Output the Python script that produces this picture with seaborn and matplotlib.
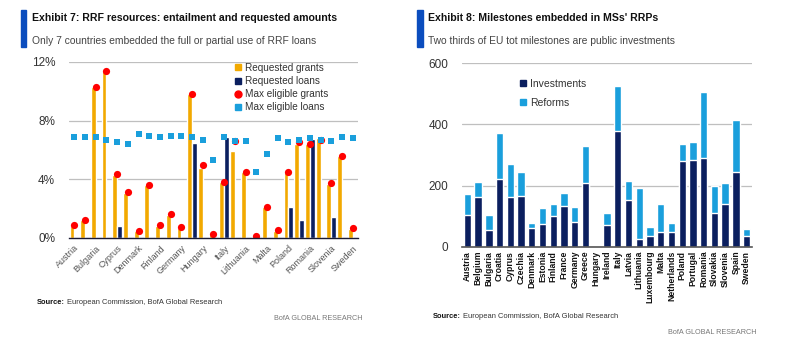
import pandas as pd
import matplotlib
matplotlib.use("Agg")
import matplotlib.pyplot as plt
from matplotlib.lines import Line2D
from matplotlib.patches import Rectangle
import seaborn as sns

# --- Data ---
countries = ["Austria", "Belgium", "Bulgaria", "Croatia", "Cyprus", "Czechia", "Denmark",
             "Estonia", "Finland", "France", "Germany", "Greece", "Hungary", "Ireland",
             "Italy", "Latvia", "Lithuania", "Luxembourg", "Malta", "Netherlands", "Poland",
             "Portugal", "Romania", "Slovakia", "Slovenia", "Spain", "Sweden"]

# Exhibit 7 (% of GNI)
requested_grants = [0.85, 1.2, 10.3, 11.4, 4.3, 3.1, 0.5, 3.6, 0.85, 1.6, 0.7, 9.8, 4.8, 0.25,
                    3.8, 5.9, 4.5, 0.1, 2.1, 0.5, 4.5, 6.4, 6.4, 6.8, 3.7, 5.6, 0.6]
requested_loans = [0, 0, 0, 0, 0.83, 0, 0, 0, 0, 0, 0, 6.5, 0, 0,
                   6.9, 0, 0, 0, 0, 0, 2.1, 1.25, 6.75, 0, 1.4, 0, 0]
max_grants = [0.86, 1.23, 10.3, 11.4, 4.35, 3.14, 0.49, 3.63, 0.86, 1.62, 0.72, 9.83, 4.95, 0.25,
              3.84, 6.6, 4.5, 0.12, 2.13, 0.55, 4.5, 6.54, 6.43, 6.7, 3.72, 5.62, 0.65]
max_loans = [6.9, 6.9, 6.9, 6.7, 6.57, 6.38, 7.1, 6.94, 6.9, 6.96, 6.98, 6.9, 6.68, 5.3,
             6.9, 6.6, 6.6, 4.49, 5.73, 6.84, 6.57, 6.7, 6.82, 6.7, 6.6, 6.87, 6.8]

# Exhibit 8 (number of milestones)
investments = [104, 163, 56, 223, 163, 166, 62, 74, 99, 133, 82, 207, 0, 72,
               377, 154, 26, 35, 48, 48, 282, 284, 291, 109, 140, 246, 35]
reforms = [68, 48, 47, 150, 108, 78, 14, 51, 41, 43, 47, 124, 0, 37,
           150, 61, 165, 28, 91, 30, 55, 58, 216, 88, 70, 170, 22]

# --- Style ---
sns.set_style("white")
plt.rcParams['font.family'] = ['Liberation Sans', 'DejaVu Sans']

YELLOW = '#F2A900'
NAVY = '#0B1F5F'
RED = '#FF0000'
LBLUE = '#1A9FDC'
GRID = '#BFBFBF'
TXT = '#333333'

fig = plt.figure(figsize=(8.02, 3.52), dpi=100)
W, H = 802, 352


def px_axes(x0, x1, ytop, ybot):
    return fig.add_axes([x0 / W, 1 - ybot / H, (x1 - x0) / W, (ybot - ytop) / H])


# --- Exhibit 7 ---
ax1 = px_axes(69, 358, 62, 238)
bars = pd.DataFrame({
    'country': countries * 2,
    'value': requested_grants + requested_loans,
    'kind': ['Requested grants'] * len(countries) + ['Requested loans'] * len(countries),
})
sns.barplot(data=bars, x='country', y='value', hue='kind', order=countries,
            palette=[YELLOW, NAVY], width=0.9, gap=0.0, saturation=1, legend=False,
            ax=ax1, zorder=2)
sns.stripplot(x=countries, y=max_grants, order=countries, jitter=False, color=RED,
              marker='o', size=5.2, linewidth=0, ax=ax1, zorder=3)
sns.stripplot(x=countries, y=max_loans, order=countries, jitter=False, color=LBLUE,
              marker='s', size=4.5, linewidth=0, ax=ax1, zorder=4)

ax1.set_xlim(-0.5, 26.5)
ax1.set_ylim(0, 12)
ax1.set_yticks([0, 4, 8, 12])
ax1.set_yticklabels(['0%', '4%', '8%', '12%'], fontsize=8.5, color=TXT)
ax1.set_xticks(range(0, len(countries), 2))
ax1.set_xticklabels(countries[::2], rotation=45, ha='right', rotation_mode='anchor',
                    fontsize=6.5, color='#555555')
ax1.tick_params(axis='both', length=0, pad=4)
ax1.tick_params(axis='y', pad=10)
ax1.set_xlabel('')
ax1.set_ylabel('')
ax1.yaxis.grid(True, color=GRID, linewidth=0.9, zorder=0)
ax1.set_axisbelow(True)
for s in ['top', 'right', 'left']:
    ax1.spines[s].set_visible(False)
ax1.spines['bottom'].set_color('#1a1a33')
ax1.spines['bottom'].set_linewidth(1.0)
ax1.spines['bottom'].set_zorder(5)

h1 = [Line2D([], [], marker='s', ls='', color=YELLOW, markersize=4.5),
      Line2D([], [], marker='s', ls='', color=NAVY, markersize=4.5),
      Line2D([], [], marker='o', ls='', color=RED, markersize=5),
      Line2D([], [], marker='s', ls='', color=LBLUE, markersize=4.5)]
ax1.legend(h1, ['Requested grants', 'Requested loans', 'Max eligible grants', 'Max eligible loans'],
           loc='upper left', bbox_to_anchor=(0.545, 1.035), frameon=False, fontsize=7.2,
           handlelength=0.8, handletextpad=0.3, labelspacing=0.32, borderpad=0.2,
           labelcolor=TXT)

# --- Exhibit 8 ---
ax2 = px_axes(462, 752, 63.3, 246.7)
totals = [i + r for i, r in zip(investments, reforms)]
sns.barplot(x=countries, y=totals, order=countries, color=LBLUE, width=0.68,
            saturation=1, ax=ax2, zorder=2)
sns.barplot(x=countries, y=investments, order=countries, color=NAVY, width=0.68,
            saturation=1, ax=ax2, zorder=3)
ax2.set_xlim(-0.5, 26.5)
ax2.set_ylim(0, 600)
ax2.set_yticks([0, 200, 400, 600])
ax2.set_yticklabels(['0', '200', '400', '600'], fontsize=8.5, color=TXT)
ax2.set_xticks(range(len(countries)))
ax2.set_xticklabels(countries, rotation=90, fontsize=6.2, fontweight='bold', color='#111111')
ax2.tick_params(axis='both', length=0)
ax2.tick_params(axis='x', pad=3)
ax2.tick_params(axis='y', pad=10)
ax2.set_xlabel('')
ax2.set_ylabel('')
ax2.yaxis.grid(True, color=GRID, linewidth=0.9, zorder=0)
ax2.set_axisbelow(True)
for s in ['top', 'right', 'left']:
    ax2.spines[s].set_visible(False)
ax2.spines['bottom'].set_color('#555555')
ax2.spines['bottom'].set_linewidth(1.2)
ax2.spines['bottom'].set_zorder(5)

h2 = [Line2D([], [], marker='s', ls='', color=NAVY, markersize=5),
      Line2D([], [], marker='s', ls='', color=LBLUE, markersize=5)]
ax2.legend(h2, ['Investments', 'Reforms'], loc='upper left', bbox_to_anchor=(0.17, 0.955),
           frameon=False, fontsize=7.5, handlelength=0.8, handletextpad=0.3,
           labelspacing=0.85, borderpad=0.2, labelcolor=TXT)

# --- Titles, sources, branding ---
BAR_BLUE = '#0B4DBE'
for x0 in (21, 417):
    fig.patches.append(Rectangle((x0 / W, 1 - 47 / H), 5.5 / W, 37 / H,
                                 transform=fig.transFigure, color=BAR_BLUE))

fig.text(32 / W, 1 - 18 / H, 'Exhibit 7: RRF resources: entailment and requested amounts',
         fontsize=7.6, fontweight='bold', color='#111111', va='center')
fig.text(32 / W, 1 - 41 / H, 'Only 7 countries embedded the full or partial use of RRF loans',
         fontsize=7.4, color='#444444', va='center')
fig.text(428 / W, 1 - 18 / H, "Exhibit 8: Milestones embedded in MSs' RRPs",
         fontsize=7.6, fontweight='bold', color='#111111', va='center')
fig.text(428 / W, 1 - 41 / H, 'Two thirds of EU tot milestones are public investments',
         fontsize=7.4, color='#444444', va='center')

for (sx, sy) in ((37, 303), (433, 316)):
    t = fig.text(sx / W, 1 - sy / H, 'Source:', fontsize=5.4, fontweight='bold',
                 color='#111111', va='center')
    fig.texts.append(plt.Annotation('European Commission, BofA Global Research', xy=(1, 0.5),
                                    xycoords=t, xytext=(1.5, 0), textcoords='offset points',
                                    va='center', ha='left', fontsize=5.4,
                                    color='#333333', annotation_clip=False))
    fig.texts[-1].set_figure(fig)

fig.text(362 / W, 1 - 318 / H, 'BofA GLOBAL RESEARCH', fontsize=5.2, color='#777777',
         ha='right', va='center')
fig.text(757 / W, 1 - 332 / H, 'BofA GLOBAL RESEARCH', fontsize=5.2, color='#777777',
         ha='right', va='center')

fig.savefig('out.png', dpi=100)
